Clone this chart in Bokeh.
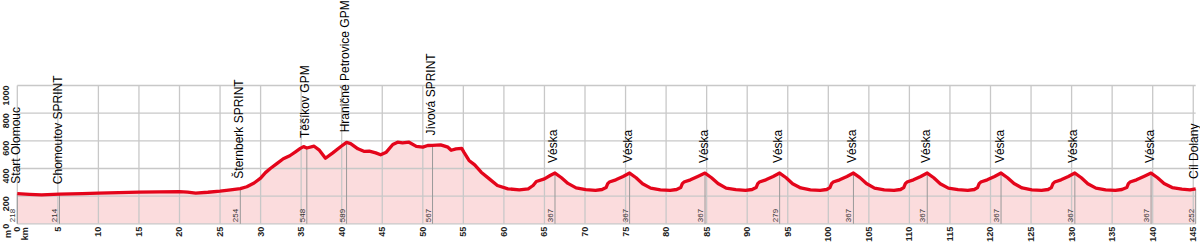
import math
import numpy as np
from bokeh.plotting import figure
from bokeh.models import ColumnDataSource, LabelSet, Label, Range1d, FixedTicker
from bokeh.core.properties import value
from bokeh.embed import file_html
from bokeh.resources import INLINE

# ---------------- data ----------------
prof_km = [
    0, 1.5, 3, 5.2, 8, 10, 12.5, 15, 17.5, 20, 21, 22, 23.5, 25, 26.3, 27.5,
    28.3, 29.2, 30, 30.6, 31.2, 32, 32.8, 33.6, 34.3, 34.9, 35.3, 35.7, 36.6,
    37.2, 38.0, 38.9, 39.9, 40.6, 41.1, 42.0, 42.8, 43.4, 44.2, 44.8, 45.5,
    46.3, 46.9, 47.5, 48.3, 49.2, 50.0, 50.6, 51.2, 52.2, 53.1, 53.5, 54.1,
    54.8, 55.1, 55.7, 56.4, 57.2, 58.2, 59.2, 60.5, 61.9, 63.0, 63.6, 64.0,
    65.0, 65.7, 66.3,
    67.1, 67.9, 68.9, 70.1, 71.3, 72.1, 72.6, 72.8, 73.0, 73.8, 74.7, 75.5,
    76.3, 77.1, 78.1, 79.3, 80.5, 81.3, 81.8, 82.0, 82.2, 83.0, 83.9, 84.8,
    85.6, 86.4, 87.4, 88.6, 89.8, 90.6, 91.1, 91.3, 91.5, 92.3, 93.2, 94.0,
    94.8, 95.6, 96.6, 97.8, 99.0, 99.8, 100.2, 100.4, 100.6, 101.4, 102.3, 103.1,
    103.9, 104.7, 105.7, 106.9, 108.1, 108.9, 109.3, 109.5, 109.7, 110.5, 111.4, 112.2,
    113.0, 113.8, 114.8, 116.0, 117.2, 118.0, 118.4, 118.6, 118.8, 119.6, 120.5, 121.3,
    122.1, 122.9, 123.9, 125.1, 126.3, 127.1, 127.5, 127.7, 127.9, 128.7, 129.6, 130.4,
    131.2, 132.0, 133.0, 134.2, 135.4, 136.2, 136.8, 137.0, 137.2, 138.0, 138.9, 139.8,
    140.6, 141.4, 142.4, 143.6, 144.6, 145.3,
]
prof_elev = [
    218, 213, 209, 214, 218, 222, 226, 229, 231, 233, 229, 222, 228, 236, 246, 254,
    268, 295, 330, 370, 400, 435, 470, 492, 520, 545, 558, 548, 561,
    535, 474, 513, 559, 589, 580, 542, 523, 525, 513, 499, 518,
    573, 590, 585, 590, 560, 554, 566, 567, 571, 554, 532, 542,
    545, 515, 458, 426, 373, 325, 277, 253, 245, 253, 277, 306,
    325, 349, 367,
    333, 292, 260, 247, 242, 248, 262, 290, 302, 318, 342, 367,
    333, 290, 258, 246, 242, 248, 262, 290, 302, 318, 342, 367,
    333, 291, 258, 247, 242, 248, 262, 290, 302, 318, 342, 367,
    333, 290, 259, 246, 242, 248, 262, 290, 302, 318, 342, 367,
    334, 291, 258, 246, 241, 248, 262, 290, 302, 318, 342, 367,
    333, 290, 258, 247, 242, 248, 262, 290, 302, 318, 342, 367,
    333, 291, 259, 246, 242, 248, 262, 290, 302, 318, 342, 367,
    333, 290, 258, 246, 242, 248, 262, 290, 302, 318, 342, 367,
    333, 292, 262, 250, 245, 252,
]

wp_km = [0, 5.2, 27.5, 35.7, 40.6, 51.2, 66.3, 75.5, 84.8, 94.0, 103.1,
         112.2, 121.3, 130.4, 139.8, 145.3]
wp_name = ["Start Olomouc", "Chomoutov SPRINT", "Šternberk SPRINT",
           "Těšíkov GPM", "Hraničné Petrovice GPM", "Jívová SPRINT",
           "Véska", "Véska", "Véska", "Véska", "Véska", "Véska", "Véska",
           "Véska", "Véska", "Cíl Dolany"]
wp_value = ["218", "214", "254", "548", "589", "567", "367", "367", "367",
            "279", "367", "367", "367", "367", "367", "252"]

km_ticks = list(range(0, 146, 5))
m_ticks = [0, 200, 400, 600, 800, 1000]

# ---------------- figure ----------------
FONT = "Liberation Sans"
W, H = 1200, 242
PX_PER_KM = 8.11
PX_PER_M = 0.1383
X0_PX = 16.8          # screen x of km 0
Y0_PX = 223.3         # screen y of 0 m
x_rng = Range1d(-X0_PX / PX_PER_KM, (W - X0_PX) / PX_PER_KM)
y_rng = Range1d(-(H - Y0_PX) / PX_PER_M, Y0_PX / PX_PER_M)

p = figure(width=W, height=H, output_backend="svg", toolbar_location=None,
           x_range=x_rng, y_range=y_rng,
           min_border_left=0, min_border_right=0, min_border_top=0,
           min_border_bottom=0)
p.outline_line_color = None
p.background_fill_color = "white"
p.border_fill_color = "white"
p.xgrid.visible = False
p.ygrid.visible = False

x_end = prof_km[-1]

# area fill
p.varea(x=prof_km, y1=0, y2=prof_elev, fill_color="#fbdcdd")

# grid
top = max(m_ticks)
p.segment(x0=km_ticks, y0=[0] * len(km_ticks), x1=km_ticks, y1=[top] * len(km_ticks),
          line_color="#c8c8c8", line_width=1.3)
p.segment(x0=[0] * len(m_ticks), y0=m_ticks, x1=[x_end] * len(m_ticks), y1=m_ticks,
          line_color="#c8c8c8", line_width=1.3)

# waypoint lines
wp_elev = list(np.interp(wp_km, prof_km, prof_elev))
p.segment(x0=wp_km, y0=[0] * len(wp_km), x1=wp_km, y1=wp_elev,
          line_color="#999999", line_width=1)

# profile line
p.line(prof_km, prof_elev, line_color="#e4051b", line_width=3.3, line_join="round")

# labels
src = ColumnDataSource(dict(x=wp_km, y=wp_elev, name=wp_name, val=wp_value,
                            zero=[0] * len(wp_km)))
names = LabelSet(x="x", y="y", text="name", source=src, angle=math.pi / 2,
                 text_align="left", text_baseline="alphabetic",
                 x_offset=2.5, y_offset=10, text_font=value(FONT),
                 text_font_size=value("12px"), text_color="#000000")
vals = LabelSet(x="x", y="zero", text="val", source=src, angle=math.pi / 2,
                text_align="left", text_baseline="alphabetic",
                x_offset=-2, y_offset=1.6, text_font=value(FONT),
                text_font_size=value("8px"), text_color="#333333")
p.add_layout(names)
p.add_layout(vals)

# axes (fixed at 0 km / 0 m)
for ax, ticks, standoff in ((p.xaxis, km_ticks, 3), (p.yaxis, m_ticks, 11)):
    ax.ticker = FixedTicker(ticks=ticks)
    ax.fixed_location = 0
    ax.major_label_orientation = math.pi / 2
    ax.major_label_standoff = standoff
    ax.major_tick_out = 0
    ax.major_tick_in = 0
    ax.minor_tick_out = 0
    ax.minor_tick_in = 0
    ax.axis_line_color = None
    ax.major_label_text_font = FONT
    ax.major_label_text_font_style = "bold"
    ax.major_label_text_font_size = "9px"
    ax.major_label_text_color = "#222222"

p.add_layout(Label(x=-1.17, y=-45, text="m", angle=math.pi / 2, text_align="right",
                   text_baseline="alphabetic", text_font=FONT, text_font_style="bold",
                   text_font_size="9px", text_color="#222222"))
p.add_layout(Label(x=1.0, y=-24.6, text="km", angle=math.pi / 2, text_align="right",
                   text_baseline="alphabetic", text_font=FONT, text_font_style="bold",
                   text_font_size="9px", text_color="#222222"))

open("out.html", "w").write(file_html(p, INLINE))
